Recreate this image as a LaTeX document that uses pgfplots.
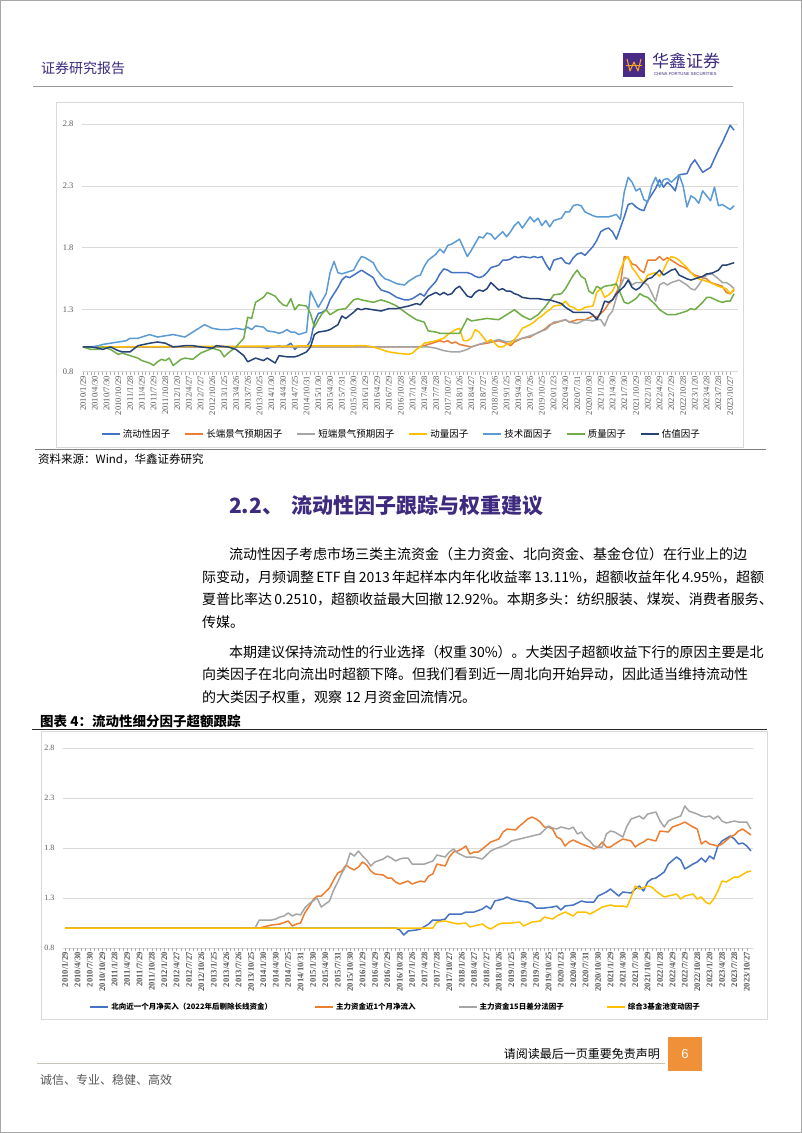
\documentclass[border=0pt]{standalone}
\usepackage{pgfplots}
\pgfplotsset{compat=1.18}
\usepackage{fontspec}
\setmainfont{Liberation Serif}
\newfontfamily\cjk{Noto Sans CJK SC}
\newfontfamily\sans{Liberation Sans}
\XeTeXlinebreaklocale "zh"
\XeTeXlinebreakskip=0pt plus 3pt minus 0.6pt
\definecolor{hxPurple}{HTML}{3E2A7E}
\definecolor{logoPurple}{HTML}{4A2C86}
\definecolor{logoOrange}{HTML}{F5A623}
\definecolor{pageOrange}{HTML}{F0913A}
\definecolor{frameGray}{HTML}{D9D9D9}
\definecolor{gridGray}{HTML}{D9D9D9}
\definecolor{labelGray}{HTML}{595959}
\definecolor{footGray}{HTML}{C9C4B8}
\definecolor{cBlue}{HTML}{4472C4}
\definecolor{cOrange}{HTML}{ED7D31}
\definecolor{cGray}{HTML}{A5A5A5}
\definecolor{cGold}{HTML}{FFC000}
\definecolor{cLBlue}{HTML}{5B9BD5}
\definecolor{cGreen}{HTML}{70AD47}
\definecolor{cDBlue}{HTML}{264478}
\pgfplotsset{
  datelabels/.style={xticklabels={2010/1/29,2010/4/30,2010/7/30,2010/10/29,2011/1/28,2011/4/29,2011/7/29,2011/10/28,2012/1/20,2012/4/27,2012/7/27,2012/10/26,2013/1/25,2013/4/26,2013/7/26,2013/10/25,2014/1/30,2014/4/30,2014/7/25,2014/10/31,2015/1/30,2015/4/30,2015/7/31,2015/10/30,2016/1/29,2016/4/29,2016/7/29,2016/10/28,2017/1/26,2017/4/28,2017/7/28,2017/10/27,2018/1/26,2018/4/27,2018/7/27,2018/10/26,2019/1/25,2019/4/30,2019/7/26,2019/10/25,2020/1/23,2020/4/30,2020/7/31,2020/10/30,2021/1/29,2021/4/30,2021/7/30,2021/10/29,2022/1/28,2022/4/29,2022/7/29,2022/10/28,2023/1/20,2023/4/28,2023/7/28,2023/10/27}},
  hxaxis/.style={scale only axis, axis line style={draw=none},
    ymin=0.8, ymax=2.8, ytick={0.8,1.3,1.8,2.3,2.8}, yticklabels={0.8,1.3,1.8,2.3,2.8},
    ymajorgrids, major grid style={gridGray, line width=0.8pt},
    y tick style={draw=none},
    xtick={0,3,...,165}, minor x tick num=2, datelabels,
    x tick style={draw=gridGray!80!black, line width=0.5pt},
    minor x tick style={draw=gridGray!80!black, line width=0.5pt},
    tick align=outside, tick pos=left,
    major tick length=3pt, minor tick length=3pt,
    x tick label style={rotate=90, anchor=east, text=labelGray, inner sep=1pt},
    y tick label style={text=labelGray, xshift=-2pt},
    every axis plot/.append style={line width=1.5pt, line join=round, mark=none},
    legend style={draw=none, fill=none, legend columns=-1},
    legend image code/.code={\draw[#1, line width=2pt](0pt,0pt)--(18pt,0pt);}
  }
}
\begin{document}
\begin{tikzpicture}[x=1pt,y=1pt]
\path[use as bounding box] (0,0) rectangle (802,-1133);
\fill[white] (0,0) rectangle (802,-1133);
\draw[gray!70, line width=0.8pt] (0.5,-0.5) rectangle (801.5,-1132.5);
% header
\node[anchor=west, inner sep=0, text=hxPurple] at (41,-68) {\cjk\fontsize{14}{16}\selectfont 证券研究报告};
\fill[logoPurple] (623,-53) rectangle (645,-77);
\draw[logoOrange, line width=1pt, line join=round] (627,-59) -- (630,-71) -- (634,-62) -- (638,-71) -- (641,-59);
\draw[logoOrange, line width=0.8pt] (626,-65.5) -- (642,-65.5);
\node[anchor=west, inner sep=0, text=hxPurple] at (652,-61) {\cjk\fontsize{17}{19}\selectfont 华鑫证券};
\node[anchor=west, inner sep=0, text=hxPurple] at (654,-74.5) {\sans\fontsize{4.3}{5}\selectfont CHINA FORTUNE SECURITIES};
\draw[gray!80, line width=0.8pt] (33,-86) -- (733,-86);
% chart 1 frame and source
\draw[frameGray, line width=0.8pt] (56,-102) rectangle (743,-447);
\draw[gray, line width=1pt] (35,-449.5) -- (766,-449.5);
\node[anchor=west, inner sep=0] at (38,-459) {\cjk\fontsize{11.5}{13}\selectfont 资料来源：Wind，华鑫证券研究};

\begin{axis}[hxaxis, at={(82pt,-371.7pt)}, anchor=south west, width=656pt, height=247.7pt,
  xmin=-0.25, xmax=167,
  x tick label style={font=\fontsize{8.6}{9}\selectfont},
  y tick label style={font=\fontsize{8.5}{9}\selectfont},
  legend style={at={(0.487,-0.2515)}, anchor=center, font=\cjk\fontsize{9.5}{11}\selectfont,
    /tikz/every even column/.append style={column sep=12pt}}]
\addplot[cBlue] coordinates {(0,1.00)(44,1.00)(45,1.00)(47,0.99)(50,1.01)(51,1.00)(52,1.01)(53,1.03)(54,0.98)(55,1.01)(57,1.00)(58,1.05)(59,1.20)(60,1.27)(61,1.28)(62,1.30)(63,1.38)(65,1.48)(66,1.54)(67,1.57)(68,1.56)(69,1.58)(70,1.60)(71,1.62)(72,1.60)(74,1.56)(75,1.50)(76,1.46)(77,1.45)(78,1.44)(79,1.42)(80,1.40)(82,1.38)(83,1.38)(84,1.39)(85,1.41)(86,1.43)(87,1.41)(88,1.46)(90,1.53)(91,1.59)(92,1.63)(93,1.62)(94,1.60)(95,1.60)(96,1.60)(98,1.60)(99,1.59)(100,1.57)(101,1.56)(102,1.57)(103,1.60)(104,1.64)(106,1.66)(107,1.70)(108,1.70)(109,1.71)(110,1.73)(111,1.72)(112,1.73)(114,1.72)(115,1.73)(116,1.72)(117,1.73)(118,1.67)(119,1.62)(120,1.70)(122,1.72)(123,1.68)(124,1.67)(125,1.72)(126,1.75)(127,1.76)(128,1.74)(130,1.81)(131,1.86)(132,1.93)(133,1.95)(134,1.96)(135,1.93)(136,1.87)(138,2.05)(139,2.15)(140,2.16)(141,2.13)(142,2.11)(143,2.10)(144,2.18)(146,2.28)(147,2.35)(148,2.29)(149,2.33)(150,2.30)(151,2.26)(152,2.39)(154,2.40)(155,2.47)(156,2.51)(157,2.46)(158,2.41)(159,2.43)(160,2.45)(161,2.52)(162,2.59)(163,2.65)(164,2.72)(165,2.79)(166,2.75)};
\addlegendentry{流动性因子}
\addplot[cOrange] coordinates {(0,1.00)(86,1.00)(87,1.01)(90,1.04)(91,1.05)(92,1.04)(93,1.05)(94,1.03)(95,1.04)(96,1.02)(99,1.00)(101,1.02)(103,1.03)(106,1.05)(108,1.03)(109,1.01)(110,1.04)(112,1.07)(114,1.08)(115,1.10)(117,1.13)(118,1.15)(119,1.18)(122,1.21)(123,1.22)(124,1.20)(126,1.22)(128,1.22)(130,1.25)(131,1.24)(132,1.27)(133,1.30)(134,1.35)(135,1.38)(136,1.44)(137,1.50)(138,1.73)(139,1.72)(140,1.67)(141,1.66)(142,1.62)(143,1.60)(144,1.70)(146,1.70)(147,1.73)(148,1.70)(149,1.72)(150,1.70)(151,1.68)(152,1.66)(154,1.63)(155,1.60)(156,1.58)(157,1.57)(158,1.56)(159,1.55)(160,1.52)(162,1.50)(163,1.49)(164,1.44)(165,1.43)(166,1.46)};
\addlegendentry{长端景气预期因子}
\addplot[cGray] coordinates {(0,1.00)(88,1.00)(90,0.99)(92,0.97)(94,0.96)(96,0.96)(98,0.98)(99,1.00)(101,1.02)(103,1.04)(104,1.04)(106,1.06)(108,1.04)(110,1.05)(112,1.07)(115,1.10)(117,1.13)(118,1.14)(119,1.17)(120,1.20)(122,1.21)(123,1.22)(124,1.20)(126,1.19)(128,1.22)(130,1.21)(131,1.22)(132,1.22)(133,1.17)(134,1.25)(135,1.29)(136,1.40)(137,1.49)(138,1.56)(139,1.55)(140,1.50)(141,1.52)(142,1.52)(143,1.52)(144,1.50)(146,1.37)(147,1.50)(148,1.52)(149,1.50)(150,1.52)(151,1.53)(152,1.54)(154,1.50)(155,1.47)(156,1.46)(157,1.50)(158,1.55)(159,1.58)(160,1.60)(162,1.55)(163,1.52)(164,1.52)(165,1.50)(166,1.47)};
\addlegendentry{短端景气预期因子}
\addplot[cGold] coordinates {(0,1.00)(72,1.01)(74,1.00)(76,0.98)(78,0.96)(80,0.95)(83,0.94)(84,0.95)(85,0.98)(86,1.00)(87,1.03)(90,1.05)(92,1.07)(93,1.10)(94,1.12)(95,1.14)(96,1.15)(97,1.05)(98,1.05)(99,1.07)(100,1.14)(101,1.12)(102,1.08)(103,1.04)(104,1.06)(106,1.00)(107,1.00)(108,1.02)(109,1.03)(110,1.06)(111,1.10)(112,1.15)(114,1.18)(115,1.20)(116,1.23)(117,1.25)(118,1.28)(119,1.30)(120,1.33)(122,1.34)(123,1.37)(124,1.33)(125,1.32)(126,1.30)(127,1.30)(128,1.32)(130,1.33)(131,1.44)(132,1.47)(133,1.40)(134,1.42)(135,1.45)(136,1.52)(137,1.62)(138,1.70)(139,1.73)(140,1.64)(141,1.60)(142,1.55)(143,1.52)(144,1.58)(146,1.60)(147,1.57)(148,1.62)(149,1.69)(150,1.73)(151,1.72)(152,1.70)(154,1.64)(155,1.60)(156,1.57)(157,1.55)(158,1.54)(159,1.53)(160,1.52)(162,1.49)(163,1.48)(164,1.47)(165,1.43)(166,1.47)};
\addlegendentry{动量因子}
\addplot[cLBlue] coordinates {(0,1.00)(2,1.00)(4,1.01)(5,1.02)(7,1.03)(9,1.04)(11,1.05)(12,1.07)(14,1.07)(17,1.10)(19,1.08)(21,1.09)(23,1.10)(26,1.08)(28,1.12)(30,1.16)(31,1.18)(33,1.15)(35,1.14)(37,1.14)(39,1.15)(41,1.14)(42,1.16)(43,1.14)(44,1.17)(46,1.16)(47,1.13)(49,1.12)(50,1.11)(51,1.12)(52,1.14)(53,1.12)(54,1.12)(55,1.10)(57,1.12)(58,1.45)(60,1.32)(62,1.43)(63,1.60)(64,1.69)(65,1.60)(66,1.59)(67,1.60)(69,1.62)(70,1.68)(71,1.73)(72,1.72)(74,1.68)(75,1.62)(76,1.58)(77,1.55)(78,1.54)(80,1.51)(82,1.50)(83,1.53)(85,1.57)(86,1.58)(87,1.65)(88,1.70)(90,1.75)(91,1.79)(92,1.76)(93,1.82)(94,1.83)(95,1.85)(96,1.87)(98,1.73)(99,1.78)(101,1.89)(102,1.88)(103,1.92)(104,1.91)(105,1.87)(107,1.93)(108,1.89)(109,1.93)(110,1.98)(111,2.01)(112,1.96)(114,2.05)(115,2.01)(116,2.04)(117,1.98)(118,2.02)(119,1.97)(120,2.02)(122,2.04)(123,2.09)(124,2.09)(125,2.14)(126,2.15)(127,2.14)(128,2.09)(130,2.06)(131,2.05)(133,2.05)(134,2.05)(135,2.06)(136,2.07)(137,2.03)(138,2.25)(139,2.37)(140,2.33)(141,2.26)(142,2.28)(143,2.19)(144,2.17)(145,2.30)(146,2.37)(147,2.29)(148,2.35)(149,2.36)(150,2.33)(151,2.36)(152,2.39)(153,2.30)(154,2.13)(155,2.22)(156,2.20)(157,2.16)(158,2.26)(159,2.22)(160,2.18)(161,2.29)(162,2.14)(163,2.15)(164,2.13)(165,2.11)(166,2.14)};
\addlegendentry{技术面因子}
\addplot[cGreen] coordinates {(0,1.00)(2,0.98)(4,0.98)(5,1.00)(7,0.98)(9,0.94)(10,0.95)(12,0.93)(14,0.91)(15,0.89)(17,0.87)(18,0.85)(19,0.88)(20,0.90)(21,0.89)(22,0.91)(23,0.85)(25,0.90)(26,0.91)(28,0.90)(30,0.95)(33,0.99)(35,0.97)(36,0.92)(37,0.95)(39,1.00)(41,1.07)(42,1.24)(43,1.23)(44,1.36)(46,1.40)(47,1.44)(49,1.41)(50,1.37)(51,1.34)(52,1.33)(53,1.39)(54,1.30)(55,1.34)(57,1.33)(58,1.27)(59,1.16)(60,1.22)(61,1.27)(62,1.30)(63,1.26)(65,1.30)(67,1.31)(69,1.38)(70,1.39)(71,1.38)(74,1.36)(76,1.38)(78,1.36)(80,1.33)(83,1.26)(84,1.24)(85,1.22)(87,1.20)(88,1.13)(90,1.12)(91,1.11)(93,1.11)(94,1.11)(96,1.11)(98,1.23)(99,1.21)(101,1.22)(103,1.23)(106,1.22)(108,1.26)(110,1.30)(112,1.25)(114,1.22)(116,1.26)(118,1.33)(120,1.42)(122,1.43)(123,1.47)(125,1.58)(126,1.62)(127,1.57)(128,1.55)(129,1.45)(130,1.43)(131,1.49)(132,1.47)(133,1.49)(135,1.50)(136,1.51)(138,1.36)(139,1.35)(140,1.37)(141,1.39)(142,1.43)(143,1.41)(144,1.40)(146,1.34)(147,1.30)(148,1.28)(149,1.26)(150,1.26)(151,1.26)(152,1.27)(154,1.29)(155,1.31)(156,1.30)(157,1.33)(158,1.36)(159,1.40)(160,1.40)(162,1.37)(163,1.36)(164,1.37)(165,1.37)(166,1.43)};
\addlegendentry{质量因子}
\addplot[cDBlue] coordinates {(0,1.00)(2,1.00)(4,0.99)(5,0.98)(7,1.00)(9,0.97)(10,0.96)(12,0.96)(14,1.01)(17,1.03)(19,1.04)(21,1.03)(23,1.00)(26,1.01)(28,1.01)(30,1.00)(33,0.99)(34,1.01)(37,1.00)(39,0.98)(41,0.93)(42,0.88)(44,0.91)(46,0.89)(47,0.91)(49,0.87)(50,0.93)(52,0.92)(54,0.92)(55,0.93)(57,0.96)(58,1.00)(59,1.10)(60,1.12)(62,1.13)(63,1.14)(65,1.18)(66,1.25)(67,1.23)(69,1.28)(70,1.31)(71,1.30)(72,1.31)(74,1.30)(76,1.29)(78,1.31)(80,1.31)(83,1.33)(85,1.35)(86,1.34)(87,1.38)(88,1.41)(90,1.44)(91,1.42)(92,1.44)(93,1.42)(94,1.43)(95,1.47)(96,1.49)(98,1.41)(99,1.40)(100,1.44)(101,1.46)(102,1.45)(103,1.47)(104,1.52)(106,1.46)(107,1.47)(108,1.45)(109,1.45)(110,1.43)(111,1.42)(112,1.40)(114,1.39)(116,1.39)(118,1.38)(119,1.38)(120,1.37)(122,1.35)(123,1.32)(125,1.28)(127,1.28)(129,1.28)(130,1.26)(131,1.22)(132,1.28)(133,1.37)(134,1.36)(135,1.38)(136,1.43)(138,1.49)(139,1.54)(140,1.48)(141,1.46)(142,1.48)(143,1.52)(144,1.55)(145,1.56)(146,1.59)(147,1.62)(148,1.58)(149,1.60)(150,1.62)(151,1.63)(152,1.58)(154,1.55)(155,1.54)(156,1.55)(157,1.56)(158,1.57)(159,1.59)(160,1.59)(162,1.62)(163,1.66)(164,1.66)(165,1.67)(166,1.68)};
\addlegendentry{估值因子}
\end{axis}

% section heading and text
\node[anchor=west, inner sep=0, text=hxPurple] at (229,-506) {\cjk\bfseries\fontsize{21}{24}\selectfont 2.2、\hspace{8pt}流动性因子跟踪与权重建议};
\begin{scope}[every node/.style={anchor=west, inner sep=0, font=\cjk\fontsize{14}{16}\selectfont}]
\node at (229,-554) {\hbox to 534pt{流动性因子考虑市场三类主流资金（主力资金、北向资金、基金仓位）在行业上的边}};
\node at (202,-577) {\hbox to 561pt{际变动，月频调整 ETF 自 2013 年起样本内年化收益率 13.11\%，超额收益年化 4.95\%，超额}};
\node at (202,-599.5) {\hbox to 561pt{夏普比率达 0.2510，超额收益最大回撤 12.92\%。本期多头：纺织服装、煤炭、消费者服务、}};
\node at (202,-622) {传媒。};
\node at (229,-652) {\hbox to 534pt{本期建议保持流动性的行业选择（权重 30\%）。大类因子超额收益下行的原因主要是北}};
\node at (202,-674.5) {\hbox to 561pt{向类因子在北向流出时超额下降。但我们看到近一周北向开始异动，因此适当维持流动性}};
\node at (202,-697) {的大类因子权重，观察 12 月资金回流情况。};
\end{scope}

% chart 2 title and frame
\node[anchor=west, inner sep=0] at (40,-721) {\cjk\bfseries\fontsize{13.5}{15}\selectfont 图表 4：流动性细分因子超额跟踪};
\draw[black!85, line width=1.2pt] (32,-729.5) -- (767,-729.5);
\draw[frameGray, line width=0.8pt] (41,-731) rectangle (767,-1019);

\begin{axis}[hxaxis, at={(63pt,-948pt)}, anchor=south west, width=690pt, height=200pt,
  xmin=-0.5, xmax=166.5,
  x tick label style={font=\bfseries\fontsize{8.6}{9}\selectfont},
  y tick label style={font=\fontsize{8}{9}\selectfont},
  legend style={at={(0.482,-0.295)}, anchor=center, font=\cjk\bfseries\fontsize{7.5}{9}\selectfont,
    /tikz/every even column/.append style={column sep=40pt}}]
\addplot[cBlue] coordinates {(0,1.00)(80,1.00)(81,0.98)(82,0.93)(83,0.97)(85,0.98)(86,0.99)(88,1.04)(89,1.08)(91,1.08)(92,1.09)(93,1.14)(95,1.14)(96,1.14)(97,1.16)(99,1.16)(101,1.19)(102,1.22)(103,1.19)(104,1.27)(106,1.29)(107,1.31)(108,1.29)(110,1.27)(112,1.26)(113,1.24)(114,1.20)(115,1.20)(116,1.20)(118,1.21)(119,1.22)(120,1.18)(121,1.22)(123,1.23)(124,1.25)(125,1.27)(126,1.26)(128,1.26)(129,1.32)(131,1.36)(132,1.39)(134,1.32)(135,1.36)(137,1.35)(138,1.39)(139,1.42)(140,1.37)(141,1.46)(142,1.49)(143,1.50)(145,1.56)(146,1.64)(148,1.71)(149,1.68)(150,1.59)(152,1.64)(153,1.66)(154,1.70)(155,1.66)(156,1.72)(157,1.69)(158,1.82)(159,1.87)(161,1.92)(162,1.89)(163,1.84)(164,1.85)(165,1.82)(166,1.77)};
\addlegendentry{北向近一个月净买入（2022年后剔除长线资金）}
\addplot[cOrange] coordinates {(0,1.00)(47,1.00)(48,1.01)(50,1.03)(52,1.04)(54,1.07)(55,1.02)(56,1.04)(57,1.05)(58,1.15)(59,1.21)(60,1.28)(61,1.32)(62,1.32)(64,1.40)(65,1.48)(66,1.55)(67,1.57)(68,1.63)(69,1.60)(70,1.58)(71,1.61)(72,1.66)(73,1.63)(74,1.57)(75,1.54)(77,1.53)(78,1.50)(79,1.50)(80,1.46)(81,1.44)(83,1.47)(84,1.44)(86,1.47)(87,1.46)(88,1.52)(89,1.54)(90,1.64)(92,1.62)(93,1.71)(94,1.76)(95,1.77)(96,1.79)(97,1.82)(98,1.74)(99,1.76)(100,1.76)(101,1.79)(103,1.86)(105,1.89)(106,1.96)(107,1.99)(109,1.98)(110,2.02)(112,2.09)(113,2.11)(114,2.09)(115,2.06)(116,2.01)(117,2.01)(118,1.99)(119,1.91)(120,1.89)(121,1.82)(122,1.86)(123,1.88)(124,1.86)(125,1.84)(127,1.81)(128,1.79)(129,1.81)(130,1.86)(131,1.81)(132,1.81)(133,1.84)(135,1.89)(137,1.87)(138,1.81)(139,1.84)(140,1.86)(141,1.89)(143,1.87)(144,1.97)(146,1.96)(147,2.01)(149,2.04)(150,2.06)(152,2.01)(153,1.99)(154,1.84)(155,1.87)(156,1.84)(158,1.82)(159,1.84)(161,1.91)(162,1.93)(163,1.97)(164,1.99)(166,1.93)};
\addlegendentry{主力资金近1个月净流入}
\addplot[cGray] coordinates {(0,1.00)(46,1.00)(47,1.08)(48,1.08)(50,1.08)(51,1.09)(52,1.11)(53,1.12)(54,1.15)(55,1.12)(56,1.14)(57,1.13)(58,1.20)(59,1.24)(60,1.27)(61,1.30)(62,1.21)(64,1.27)(65,1.38)(66,1.46)(67,1.55)(68,1.62)(69,1.75)(70,1.72)(71,1.77)(72,1.72)(73,1.68)(74,1.62)(75,1.66)(77,1.69)(78,1.72)(79,1.70)(80,1.67)(81,1.69)(82,1.70)(83,1.70)(84,1.64)(86,1.64)(87,1.64)(89,1.67)(90,1.73)(92,1.71)(93,1.76)(94,1.79)(95,1.75)(97,1.71)(99,1.71)(101,1.69)(103,1.77)(104,1.79)(106,1.82)(107,1.84)(108,1.87)(110,1.89)(111,1.90)(113,1.92)(115,1.94)(117,2.02)(118,2.00)(119,1.99)(120,2.01)(122,1.99)(123,2.01)(124,1.94)(125,1.96)(126,1.90)(127,1.87)(128,1.82)(129,1.81)(130,1.81)(131,1.94)(132,1.97)(133,1.96)(135,1.91)(136,2.02)(137,2.09)(139,2.12)(140,2.09)(141,2.14)(143,2.16)(144,2.07)(145,2.01)(146,2.07)(147,2.09)(149,2.12)(150,2.22)(151,2.17)(153,2.14)(154,2.12)(155,2.11)(156,2.12)(157,2.09)(158,2.12)(159,2.07)(160,2.05)(162,2.07)(163,2.06)(165,2.06)(166,1.99)};
\addlegendentry{主力资金15日差分法因子}
\addplot[cGold] coordinates {(0,1.00)(89,1.00)(90,1.06)(92,1.07)(93,1.06)(95,1.04)(97,1.05)(98,1.01)(99,1.02)(101,1.04)(102,1.01)(103,0.99)(105,1.04)(106,1.05)(108,1.05)(110,1.06)(111,1.02)(113,1.06)(115,1.07)(116,1.11)(118,1.09)(119,1.12)(121,1.16)(123,1.12)(124,1.16)(126,1.16)(127,1.14)(128,1.16)(130,1.21)(132,1.23)(133,1.22)(135,1.22)(136,1.21)(137,1.31)(138,1.42)(139,1.39)(141,1.42)(142,1.41)(143,1.37)(145,1.31)(146,1.32)(148,1.34)(149,1.29)(150,1.32)(152,1.34)(153,1.29)(154,1.31)(155,1.26)(156,1.24)(157,1.29)(158,1.37)(159,1.47)(160,1.46)(162,1.51)(163,1.51)(165,1.56)(166,1.57)};
\addlegendentry{综合3基金池变动因子}
\end{axis}

% footer
\node[anchor=east, inner sep=0] at (660,-1054) {\cjk\fontsize{12}{14}\selectfont 请阅读最后一页重要免责声明};
\fill[pageOrange] (668,-1037) rectangle (702,-1071);
\node[text=white, inner sep=0] at (685,-1054) {\sans\fontsize{13}{15}\selectfont 6};
\draw[footGray, line width=0.8pt] (37,-1063) -- (665,-1063);
\node[anchor=west, inner sep=0, text=labelGray] at (40,-1080) {\cjk\fontsize{12}{14}\selectfont 诚信、专业、稳健、高效};
\end{tikzpicture}
\end{document}
